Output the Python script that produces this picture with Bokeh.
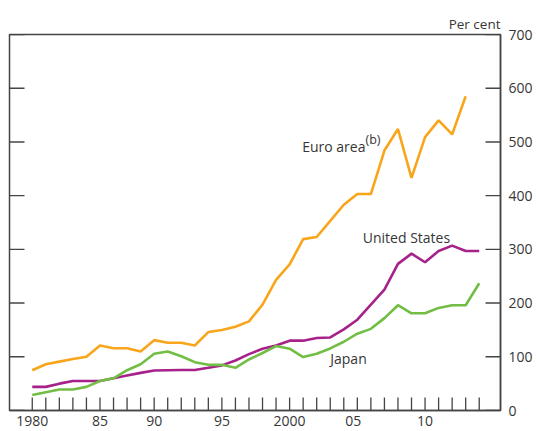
import math
from bokeh.plotting import figure
from bokeh.models import LinearAxis, FixedTicker, Range1d, Label
from bokeh.embed import file_html
from bokeh.resources import INLINE

years = list(range(1980, 2014))
euro_years = list(range(1980, 2013))

euro_area = [75, 86, 91, 96, 100, 121, 116, 116, 110, 131, 126, 126, 121, 146, 150,
             156, 166, 197, 243, 272, 319, 323, 353, 383, 403, 403, 484, 524, 433,
             509, 540, 514, 585]
united_states = [44, 44, 50, 55, 55, 55, 60, 65, 70, 74.5, 75, 75.5, 75.5, 79.5, 84,
                 93, 105, 115, 121, 130, 130, 135, 136, 151, 169, 197, 225, 273, 292,
                 276, 297, 307, 297, 297]
japan = [29, 34, 39, 39, 44, 55, 60, 75, 86, 105.5, 110, 101, 90, 85, 85, 79.5, 95,
         107, 120, 115, 99.5, 105.5, 115.5, 128, 143, 152, 172, 196, 181, 181, 191,
         196, 196, 237]

x_tick_positions = [1980, 1985, 1989, 1994, 1999, 2003.7, 2009]
x_tick_labels = ["1980", "85", "90", "95", "2000", "05", "10"]
y_ticks = [0, 100, 200, 300, 400, 500, 600, 700]

FONT = "Open Sans"
TXT = "#363636"
FRAME = "#444444"
TICK_FS = "14px"
LAB_FS = "14px"

X0, X1 = 1978.32, 2014.57
Y0, Y1 = 0, 700

p = figure(width=536, height=431, output_backend="svg", toolbar_location=None,
           x_range=Range1d(X0, X1), y_range=Range1d(Y0, Y1),
           min_border_left=9, min_border_right=36, min_border_top=34,
           min_border_bottom=21, y_axis_location=None, x_axis_location=None)
p.outline_line_color = FRAME
p.outline_line_width = 1.5
p.grid.visible = False
p.background_fill_color = "white"
p.border_fill_color = "white"

p.title.text = "Per cent"
p.title.align = "right"
p.title.text_font = FONT
p.title.text_font_size = "13.5px"
p.title.text_font_style = "normal"
p.title.text_color = TXT
p.title.standoff = 4

xaxis = LinearAxis(ticker=FixedTicker(ticks=x_tick_positions))
xaxis.major_label_overrides = {k: v for k, v in zip(x_tick_positions, x_tick_labels)}
xaxis.major_tick_in = 0
xaxis.major_tick_out = 0
xaxis.minor_tick_line_color = None
xaxis.axis_line_color = FRAME
xaxis.axis_line_width = 1.5
xaxis.major_label_standoff = 5
xaxis.major_label_text_font = FONT
xaxis.major_label_text_font_size = TICK_FS
xaxis.major_label_text_color = TXT
p.add_layout(xaxis, "below")

yright = LinearAxis(ticker=FixedTicker(ticks=y_ticks))
yright.major_tick_in = 0
yright.major_tick_out = 0
yright.minor_tick_line_color = None
yright.axis_line_color = FRAME
yright.axis_line_width = 1.5
yright.major_label_standoff = 8
yright.major_label_text_font = FONT
yright.major_label_text_font_size = TICK_FS
yright.major_label_text_color = TXT
p.add_layout(yright, "right")

# inward tick marks
p.ray(x=[X0] * len(y_ticks), y=y_ticks, length=15, length_units="screen",
      angle=0, line_color=FRAME, line_width=1.4)
p.ray(x=[X1] * len(y_ticks), y=y_ticks, length=15, length_units="screen",
      angle=math.pi, line_color=FRAME, line_width=1.4)
p.ray(x=years, y=[Y0] * len(years), length=13, length_units="screen",
      angle=math.pi / 2, line_color=FRAME, line_width=1.3)

p.line(euro_years, euro_area, line_color="#F9A51B", line_width=2.6)
p.line(years, united_states, line_color="#A6228A", line_width=2.6)
p.line(years, japan, line_color="#72BE44", line_width=2.6)

def lab(x, y, t, size=LAB_FS, align="left", baseline="middle"):
    p.add_layout(Label(x=x, y=y, text=t, text_font=FONT, text_font_size=size,
                       text_color=TXT, text_align=align, text_baseline=baseline))

lab(2004.6, 492, "Euro area", align="right")
lab(2004.6, 505, "(b)", size="12.5px")
lab(2004.4, 322, "United States")
lab(2002.0, 97, "Japan")

open("out.html", "w").write(file_html(p, INLINE))
